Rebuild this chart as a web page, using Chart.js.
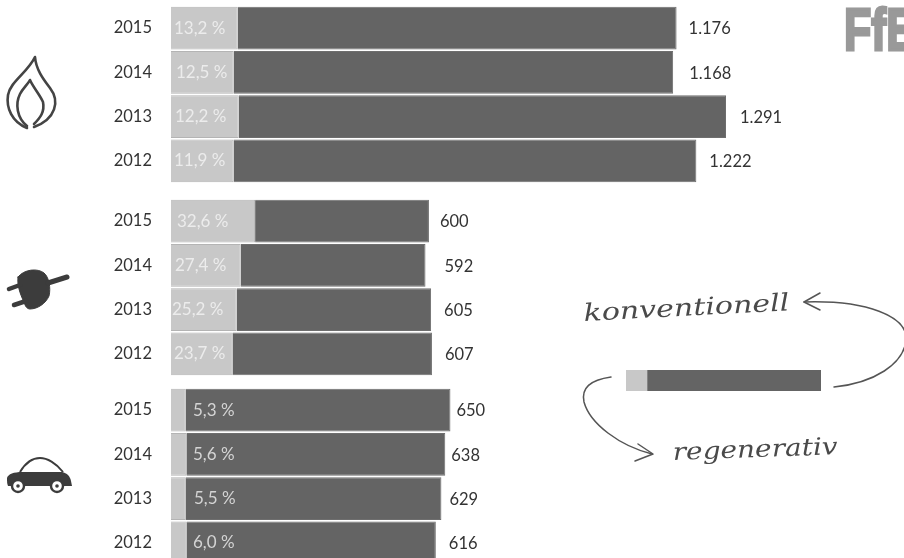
<!DOCTYPE html>
<html lang="de">
<head>
<meta charset="utf-8">
<title>Endenergie nach Sektor</title>
<script src="https://cdn.jsdelivr.net/npm/chart.js@4/dist/chart.umd.min.js"></script>
<style>
  html, body { margin: 0; background: #fff; }
  #stage { position: relative; width: 904px; height: 558px; overflow: hidden; background: #fff; }
  #stage canvas, #stage svg { position: absolute; display: block; }
  .hand { font-family: "DejaVu Serif", serif; font-style: italic; fill: #4a4a4a; }
</style>
</head>
<body>
<div id="stage">
  <canvas id="gasChart" style="left:0;top:6px"></canvas>
  <canvas id="powerChart" style="left:0;top:199px"></canvas>
  <canvas id="fuelChart" style="left:0;top:388px"></canvas>
  <canvas id="keyChart" style="left:626px;top:370px"></canvas>

  <svg width="904" height="558" viewBox="0 0 904 558" style="left:0;top:0">
    <!-- logo, runs off the right edge -->
    <text x="844" y="50" font-family="Liberation Sans Narrow, Liberation Sans" font-weight="700" font-size="60" fill="#999" textLength="72" lengthAdjust="spacingAndGlyphs" stroke="#999" stroke-width="3">FfE</text>

    <!-- flame -->
    <g fill="none" stroke="#444" stroke-width="2.6" stroke-linecap="round" stroke-linejoin="round">
      <path d="M27 128C12 122 6 108 8 95C10 82 28 72 35 57C36 70 44 80 50 88C60 101 56 119 34 127"/>
      <path d="M27 126C17 118 15 104 20 94C23 88 28 84 30 80C33 87 40 95 43 102C45 112 40 118 34 124"/>
    </g>

    <!-- plug -->
    <g fill="#3c3c3c" stroke="#3c3c3c" stroke-linecap="round">
      <path d="M18 277C24 269 38 268 44 273C49 277 51 288 49 296C46 303 38 309 30 309C27 309 25 306 24 302C20 294 17 285 18 277Z" stroke-width="1"/>
      <path d="M48 283L67 277" stroke-width="5" fill="none"/>
      <path d="M9 289L20 285" stroke-width="4.5" fill="none"/>
      <path d="M14 305L26 301" stroke-width="4.5" fill="none"/>
    </g>

    <!-- car -->
    <g>
      <path d="M20 472C26 462 33 458 40 458C47 458 56 463 63 472" fill="none" stroke="#3c3c3c" stroke-width="2"/>
      <path d="M7 478C8 474 14 472 22 472H62C67 473 70 476 71 481L72 486H8C7 484 7 481 7 478Z" fill="#3c3c3c"/>
      <circle cx="18" cy="486" r="6" fill="#fff" stroke="#3c3c3c" stroke-width="2.4"/>
      <circle cx="18" cy="486" r="1.8" fill="#3c3c3c"/>
      <circle cx="57" cy="486" r="6" fill="#fff" stroke="#3c3c3c" stroke-width="2.4"/>
      <circle cx="57" cy="486" r="1.8" fill="#3c3c3c"/>
    </g>

    <!-- key annotations -->
    <text class="hand" font-size="24" textLength="206" lengthAdjust="spacingAndGlyphs" transform="translate(584 321) rotate(-3)">konventionell</text>
    <text class="hand" font-size="24" textLength="165" lengthAdjust="spacingAndGlyphs" transform="translate(673 460) rotate(-2)">regenerativ</text>
    <g fill="none" stroke="#555" stroke-width="1.5" stroke-linecap="round" stroke-linejoin="round">
      <path d="M834 387C874 383 904 364 906 340C908 316 866 300 804 302"/>
      <path d="M820 293L804 302L820 310"/>
      <path d="M611 377C590 380 581 388 584 402C590 424 620 446 652 454"/>
      <path d="M638 444L653 454L635 461"/>
    </g>
  </svg>
</div>

<script>
  const years = ["2015", "2014", "2013", "2012"];

  // Gesamtwerte und regenerativer Anteil in Prozent, je Sektor
  const gasTotals = [1176, 1168, 1291, 1222];
  const gasShares = [13.2, 12.5, 12.2, 11.9];
  const powerTotals = [600, 592, 605, 607];
  const powerShares = [32.6, 27.4, 25.2, 23.7];
  const fuelTotals = [650, 638, 629, 616];
  const fuelShares = [5.3, 5.6, 5.5, 6.0];

  // Beispielbalken der Legende: regenerativ, konventionell
  const keySegments = [21, 174];

  const LIGHT = "#c8c8c8";
  const DARK = "#646464";
  const AXIS_MAX = 1705;
  const FONT = "Lato, 'Open Sans', sans-serif";

  function formatShare(value) {
    return value.toLocaleString("de-DE", { minimumFractionDigits: 1 }) + " %";
  }

  // Prozentwert im Balken, Gesamtwert rechts daneben
  const barLabels = {
    id: "barLabels",
    afterDatasetsDraw(chart, args, opts) {
      const { ctx, scales } = chart;
      ctx.save();
      ctx.textBaseline = "middle";
      opts.totals.forEach((total, i) => {
        const y = scales.y.getPixelForValue(i);
        ctx.font = "17px " + FONT;
        ctx.fillStyle = opts.shareColor;
        ctx.fillText(formatShare(opts.shares[i]), scales.x.getPixelForValue(0) + opts.shareOffsets[i], y);
        ctx.font = "16.5px " + FONT;
        ctx.fillStyle = "#333";
        ctx.fillText(total.toLocaleString("de-DE"), scales.x.getPixelForValue(total) + opts.totalGaps[i], y + 1);
      });
      ctx.restore();
    },
  };

  function createSectorChart(canvasId, totals, shares, shareColor, shareOffsets, totalGaps) {
    const canvas = document.getElementById(canvasId);
    canvas.width = 904;
    canvas.height = 177;

    const renewable = totals.map((total, i) => (total * shares[i]) / 100);
    const conventional = totals.map((total, i) => total - renewable[i]);

    return new Chart(canvas, {
      type: "bar",
      data: {
        labels: years,
        datasets: [
          { label: "regenerativ", data: renewable, backgroundColor: LIGHT, borderColor: "#b4b4b4", borderWidth: 1 },
          { label: "konventionell", data: conventional, backgroundColor: DARK, borderColor: "#6e6e6e", borderWidth: 1 },
        ],
      },
      options: {
        indexAxis: "y",
        responsive: false,
        animation: false,
        layout: { padding: 0 },
        barPercentage: 0.97,
        categoryPercentage: 1,
        plugins: {
          legend: { display: false },
          tooltip: { enabled: false },
          barLabels: { totals, shares, shareColor, shareOffsets, totalGaps },
        },
        scales: {
          x: { stacked: true, display: false, min: 0, max: AXIS_MAX },
          y: {
            stacked: true,
            border: { display: false },
            grid: { display: false, drawTicks: false },
            ticks: { color: "#333", padding: 19, font: { family: FONT, size: 16.5 } },
            afterFit(axis) {
              // tick padding would otherwise eat into the plot height too
              axis.width = 171;
              axis.paddingTop = 0;
              axis.paddingBottom = 0;
            },
          },
        },
      },
      plugins: [barLabels],
    });
  }

  createSectorChart("gasChart", gasTotals, gasShares, "#ececec", [3, 5, 4, 3], [12, 16, 14, 13]);
  createSectorChart("powerChart", powerTotals, powerShares, "#ececec", [6, 4, 1, 3], [11, 19, 13, 13]);
  createSectorChart("fuelChart", fuelTotals, fuelShares, "#d4d4d4", [22, 22, 23, 22], [6, 6, 8, 13]);

  const keyCanvas = document.getElementById("keyChart");
  keyCanvas.width = 195;
  keyCanvas.height = 21;
  new Chart(keyCanvas, {
    type: "bar",
    data: {
      labels: [""],
      datasets: [
        { data: [keySegments[0]], backgroundColor: LIGHT },
        { data: [keySegments[1]], backgroundColor: DARK },
      ],
    },
    options: {
      indexAxis: "y",
      responsive: false,
      animation: false,
      barPercentage: 1,
      categoryPercentage: 1,
      plugins: { legend: { display: false }, tooltip: { enabled: false } },
      scales: {
        x: { stacked: true, display: false, min: 0, max: keySegments[0] + keySegments[1] },
        y: { stacked: true, display: false },
      },
    },
  });
</script>
</body>
</html>
